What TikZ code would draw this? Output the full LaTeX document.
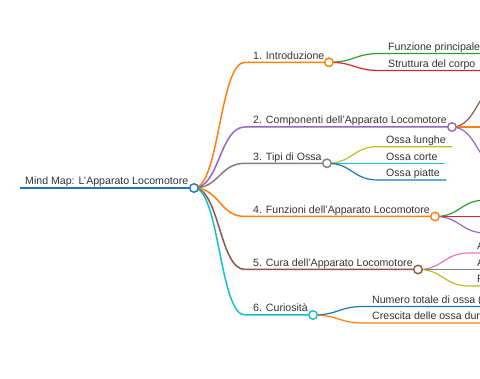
\documentclass[tikz,border=0pt]{standalone}
\usepackage{fontspec}
\setmainfont{Liberation Sans}
\definecolor{cBlue}{HTML}{1F77B4}
\definecolor{cOrange}{HTML}{FF7F0E}
\definecolor{cGreen}{HTML}{2CA02C}
\definecolor{cRed}{HTML}{D62728}
\definecolor{cPurple}{HTML}{9467BD}
\definecolor{cBrown}{HTML}{8C564B}
\definecolor{cPink}{HTML}{E377C2}
\definecolor{cGray}{HTML}{7F7F7F}
\definecolor{cOlive}{HTML}{BCBD22}
\definecolor{cCyan}{HTML}{17BECF}
\definecolor{txt}{HTML}{333333}
\begin{document}
\begin{tikzpicture}[x=1pt,y=-1pt,
  lbl/.style={anchor=base west,inner sep=0pt,font=\fontsize{10.6}{12}\selectfont,text=txt},
  link/.style={line width=1.5pt,line cap=round},
  sublink/.style={line width=1.2pt,line cap=round},
  dot/.style={circle,draw,fill=white,line width=1.4pt,minimum size=8.5pt,inner sep=0pt},
  curve/.style={to path={.. controls +(25.5,0) and +(-25.5,0) .. (\tikztotarget)}}]
\useasboundingbox (0,0) rectangle (480,379);
\clip (0,0) rectangle (480,379);
% positions
\coordinate (r0) at (20,188);
\coordinate (r) at (194,188);
\coordinate (s1) at (245,62.3);   \coordinate (c1) at (329,62.3);
\coordinate (s2) at (245,127);    \coordinate (c2) at (452,127);
\coordinate (s3) at (245,163.3);  \coordinate (c3) at (327,163.3);
\coordinate (s4) at (245,216.5);  \coordinate (c4) at (435,216.5);
\coordinate (s5) at (245,269.5);  \coordinate (c5) at (418,269.5);
\coordinate (s6) at (245,315);    \coordinate (c6) at (313,315);
% level 2
\coordinate (s11) at (380,53.5);  \coordinate (e11) at (500,53.5);
\coordinate (s12) at (380,70.5);  \coordinate (e12) at (482,70.5);
\coordinate (s21) at (503,84);    \coordinate (e21) at (560,84);
\coordinate (s22) at (503,127);   \coordinate (e22) at (560,127);
\coordinate (s23) at (503,169);   \coordinate (e23) at (560,169);
\coordinate (s31) at (378,146.7); \coordinate (e31) at (452,146.7);
\coordinate (s32) at (378,163.3); \coordinate (e32) at (444,163.3);
\coordinate (s33) at (378,180);   \coordinate (e33) at (446,180);
\coordinate (s41) at (486,200);   \coordinate (e41) at (560,200);
\coordinate (s42) at (486,216.5); \coordinate (e42) at (560,216.5);
\coordinate (s43) at (486,233);   \coordinate (e43) at (560,233);
\coordinate (s51) at (469,253);   \coordinate (e51) at (560,253);
\coordinate (s52) at (469,269.5); \coordinate (e52) at (560,269.5);
\coordinate (s53) at (469,286);   \coordinate (e53) at (560,286);
\coordinate (s61) at (364,306.5); \coordinate (e61) at (560,306.5);
\coordinate (s62) at (364,323);   \coordinate (e62) at (560,323);
% root line
\draw[line width=1.8pt,cBlue] (r0) -- (r);
% level 1 links
\draw[link,cOrange] (r) to[curve] (s1) -- (c1);
\draw[link,cPurple] (r) to[curve] (s2) -- (c2);
\draw[link,cGray]   (r) to[curve] (s3) -- (c3);
\draw[link,cOrange] (r) to[curve] (s4) -- (c4);
\draw[link,cBrown]  (r) to[curve] (s5) -- (c5);
\draw[link,cCyan]   (r) to[curve] (s6) -- (c6);
% level 2 links
\draw[sublink,cGreen]  (c1) to[curve] (s11) -- (e11);
\draw[sublink,cRed]    (c1) to[curve] (s12) -- (e12);
\draw[sublink,cBrown]  (c2) to[curve] (s21) -- (e21);
\draw[sublink,cOrange] (c2) to[curve] (s22) -- (e22);
\draw[sublink,cPurple] (c2) to[curve] (s23) -- (e23);
\draw[sublink,cOlive]  (c3) to[curve] (s31) -- (e31);
\draw[sublink,cCyan]   (c3) to[curve] (s32) -- (e32);
\draw[sublink,cBlue]   (c3) to[curve] (s33) -- (e33);
\draw[sublink,cGreen]  (c4) to[curve] (s41) -- (e41);
\draw[sublink,cRed]    (c4) to[curve] (s42) -- (e42);
\draw[sublink,cPurple] (c4) to[curve] (s43) -- (e43);
\draw[sublink,cPink]   (c5) to[curve] (s51) -- (e51);
\draw[sublink,cGray]   (c5) to[curve] (s52) -- (e52);
\draw[sublink,cOlive]  (c5) to[curve] (s53) -- (e53);
\draw[sublink,cBlue]   (c6) to[curve] (s61) -- (e61);
\draw[sublink,cOrange] (c6) to[curve] (s62) -- (e62);
% circles
\node[dot,draw=cBlue]   (nr) at (r) {};
\node[dot,draw=cOrange] (n1) at (c1) {};
\node[dot,draw=cPurple] (n2) at (c2) {};
\node[dot,draw=cGray]   (n3) at (c3) {};
\node[dot,draw=cOrange] (n4) at (c4) {};
\node[dot,draw=cBrown]  (n5) at (c5) {};
\node[dot,draw=cCyan]   (n6) at (c6) {};
% labels
\node[lbl] (tr) at ([shift={(5,-3)}]r0) {Mind Map: L'Apparato Locomotore};
\node[lbl] (t1) at ([shift={(8,-3)}]s1) {1. Introduzione};
\node[lbl] (t2) at ([shift={(8,-3)}]s2) {2. Componenti dell'Apparato Locomotore};
\node[lbl] (t3) at ([shift={(8,-3)}]s3) {3. Tipi di Ossa};
\node[lbl] (t4) at ([shift={(8,-3)}]s4) {4. Funzioni dell'Apparato Locomotore};
\node[lbl] (t5) at ([shift={(8,-3)}]s5) {5. Cura dell'Apparato Locomotore};
\node[lbl] (t6) at ([shift={(8,-3)}]s6) {6. Curiosità};
\node[lbl] (t11) at ([shift={(8,-3)}]s11) {Funzione principale};
\node[lbl] (t12) at ([shift={(8,-3)}]s12) {Struttura del corpo};
\node[lbl] (t31) at ([shift={(8,-3)}]s31) {Ossa lunghe};
\node[lbl] (t32) at ([shift={(8,-3)}]s32) {Ossa corte};
\node[lbl] (t33) at ([shift={(8,-3)}]s33) {Ossa piatte};
\node[lbl] (t51) at ([shift={(8,-3)}]s51) {A};
\node[lbl] (t52) at ([shift={(8,-3)}]s52) {A};
\node[lbl] (t53) at ([shift={(8,-3)}]s53) {F};
\node[lbl] (t61) at ([shift={(8,-3)}]s61) {Numero totale di ossa (};
\node[lbl] (t62) at ([shift={(8,-3)}]s62) {Crescita delle ossa dur};
\end{tikzpicture}
\end{document}
